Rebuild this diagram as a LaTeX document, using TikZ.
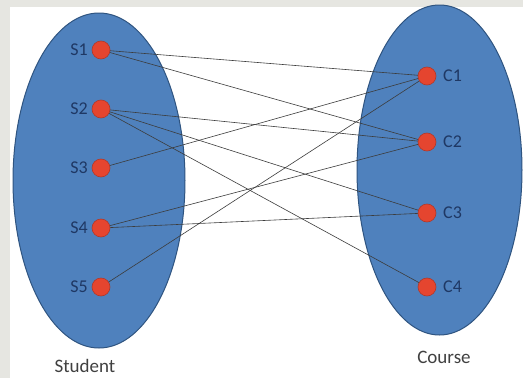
\documentclass[tikz,border=0pt]{standalone}
\usepackage{fontspec}
\setmainfont{Carlito}
\definecolor{bgframe}{HTML}{E6E6E1}
\definecolor{setfill}{HTML}{4F81BD}
\definecolor{setedge}{HTML}{2F5480}
\definecolor{dotfill}{HTML}{E5452F}
\definecolor{dotedge}{HTML}{B0382A}
\definecolor{lbl}{HTML}{1F3864}
\definecolor{edgecol}{HTML}{3C3C3C}
\tikzset{
  setshape/.style={fill=setfill, draw=setedge, line width=1pt},
  elem/.style={circle, fill=dotfill, draw=dotedge, line width=0.6pt, minimum size=18pt, inner sep=0pt},
  elemlbl/.style={text=lbl, font=\fontsize{18}{18}\selectfont, inner sep=0pt},
  caption/.style={text=black!75, font=\fontsize{19}{19}\selectfont, inner sep=0pt},
  link/.style={draw=edgecol, line width=0.6pt}
}
\begin{document}
\begin{tikzpicture}[x=1pt,y=-1pt]
\useasboundingbox (0,0) rectangle (523,378);
\fill[bgframe] (0,0) rectangle (523,378);
\fill[white] (10,7) rectangle (523,378);
\filldraw[setshape] (99,180.5) ellipse [x radius=86, y radius=167.5];
\filldraw[setshape] (439.5,170) ellipse [x radius=82.5, y radius=165];
% connectors (drawn first, dots placed on top)
\coordinate (ps1) at (101,50);
\coordinate (ps2) at (101,109);
\coordinate (ps3) at (101,168);
\coordinate (ps4) at (101,228);
\coordinate (ps5) at (101,287);
\coordinate (pc1) at (427,76);
\coordinate (pc2) at (427,142);
\coordinate (pc3) at (427,213);
\coordinate (pc4) at (427,287);
\draw[link] (ps1) -- (pc1);
\draw[link] (ps1) -- (pc2);
\draw[link] (ps2) -- (pc2);
\draw[link] (ps2) -- (pc3);
\draw[link] (ps2) -- (pc4);
\draw[link] (ps3) -- (pc1);
\draw[link] (ps4) -- (pc2);
\draw[link] (ps4) -- (pc3);
\draw[link] (ps5) -- (pc1);
% element nodes
\node[elem] (s1) at (ps1) {};
\node[elem] (s2) at (ps2) {};
\node[elem] (s3) at (ps3) {};
\node[elem] (s4) at (ps4) {};
\node[elem] (s5) at (ps5) {};
\node[elem] (c1) at (pc1) {};
\node[elem] (c2) at (pc2) {};
\node[elem] (c3) at (pc3) {};
\node[elem] (c4) at (pc4) {};
% labels
\node[elemlbl, anchor=east] (ls1) at (88,50) {S1};
\node[elemlbl, anchor=east] (ls2) at (88,109) {S2};
\node[elemlbl, anchor=east] (ls3) at (88,168) {S3};
\node[elemlbl, anchor=east] (ls4) at (88,228) {S4};
\node[elemlbl, anchor=east] (ls5) at (88,287) {S5};
\node[elemlbl, anchor=west] (lc1) at (443,76) {C1};
\node[elemlbl, anchor=west] (lc2) at (443,142) {C2};
\node[elemlbl, anchor=west] (lc3) at (443,213) {C3};
\node[elemlbl, anchor=west] (lc4) at (443,287) {C4};
\node[caption] (student) at (85,366) {Student};
\node[caption] (course) at (444,357) {Course};
\end{tikzpicture}
\end{document}
